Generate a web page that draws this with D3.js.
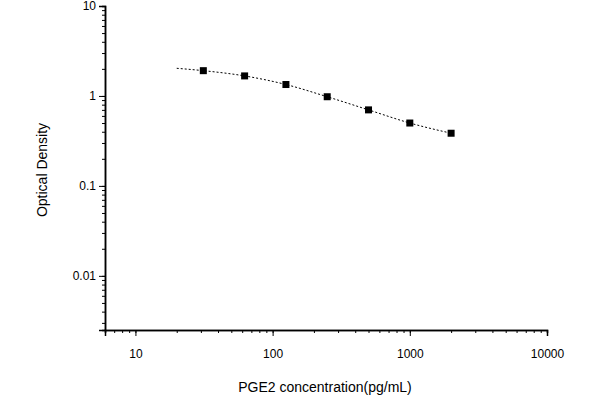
<!DOCTYPE html><html><head><script src="https://cdn.jsdelivr.net/npm/d3@7"></script>
<style>body{margin:0;background:#fff}text{font-family:"Liberation Sans",Arial,sans-serif}</style></head><body><svg width="600" height="400"></svg>
<script>
const conc=[31.25,62.5,125,250,500,1000,2000];
const od=[1.91,1.67,1.34,0.98,0.70,0.50,0.385];
const fitX=[20,31.25,62.5,125,250,500,1000,2000];
const fitY=[2.03,1.91,1.67,1.34,0.98,0.70,0.50,0.385];
const xTicks=[10,100,1000,10000];
const yTicks=[0.01,0.1,1,10];
const svg=d3.select("svg");
const x=d3.scaleLog().domain([6,10000]).range([105,547]);
const y=d3.scaleLog().domain([0.0025,10]).range([330,6]);
const minorX=[];for(let d=1;d<=1000;d*=10)for(let k=1;k<10;k++){const v=k*d;if(v>=6&&v<=10000)minorX.push(v);}
const minorY=[];for(let d=0.001;d<=1;d*=10)for(let k=1;k<10;k++){const v=k*d;if(v>=0.0025&&v<=10)minorY.push(v);}
const gx=svg.append("g").attr("transform","translate(0,330)");
gx.call(d3.axisBottom(x).tickValues(minorX).tickSize(3).tickFormat(""));
gx.call(g=>g.append("g").call(d3.axisBottom(x).tickValues(xTicks).tickSize(6).tickFormat(d3.format("d"))));
const gy=svg.append("g").attr("transform","translate(105,0)");
gy.call(d3.axisLeft(y).tickValues(minorY).tickSize(3).tickFormat(""));
gy.call(g=>g.append("g").call(d3.axisLeft(y).tickValues(yTicks).tickSize(6).tickFormat(d=>d>=1?d3.format("d")(d):String(d))));
svg.selectAll(".domain").attr("stroke","#000").attr("stroke-width",1.5);
svg.selectAll(".tick text").attr("font-size",12).attr("fill","#000");
gx.selectAll(".tick text").attr("dy","1.6em");
svg.append("path").datum(fitX.map((v,i)=>[v,fitY[i]])).attr("fill","none").attr("stroke","#000").attr("stroke-dasharray","2,2")
 .attr("d",d3.line().x(d=>x(d[0])).y(d=>y(d[1])).curve(d3.curveMonotoneX));
svg.selectAll("rect.p").data(conc).join("rect").attr("x",d=>x(d)-3.5).attr("y",(d,i)=>y(od[i])-3.5).attr("width",7).attr("height",7).attr("fill","#000");
svg.append("text").attr("x",325).attr("y",392).attr("text-anchor","middle").attr("font-size",14).text("PGE2 concentration(pg/mL)");
svg.append("text").attr("transform","translate(47,170) rotate(-90)").attr("text-anchor","middle").attr("font-size",14).text("Optical Density");
</script></body></html>
